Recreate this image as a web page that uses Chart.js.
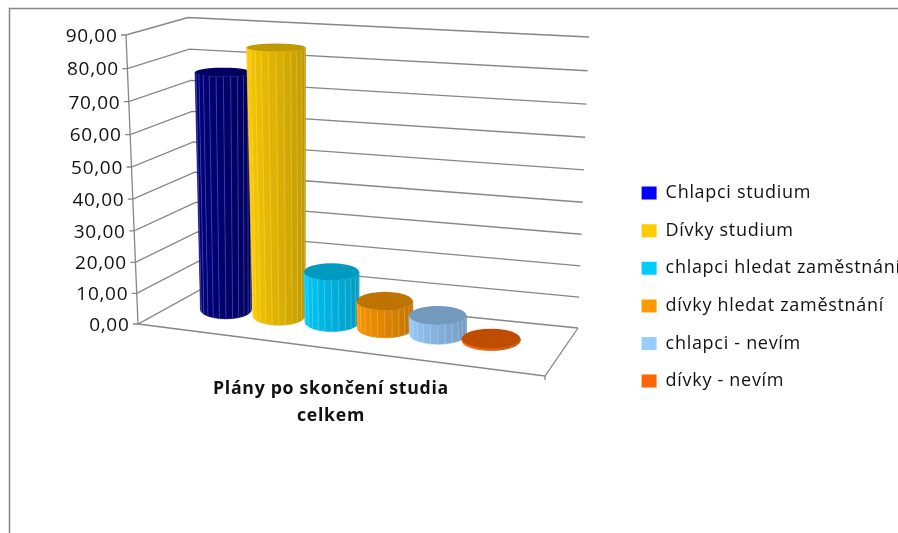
<!DOCTYPE html>
<html>
<head>
<meta charset="utf-8">
<title>Plány po skončení studia</title>
<script src="https://cdn.jsdelivr.net/npm/chart.js@4"></script>
<style>
    html, body { margin: 0; padding: 0; background: #FFFFFF; overflow: hidden; }
    #wrap { width: 898px; height: 533px; }
</style>
</head>
<body>
<div id="wrap"><canvas id="chart-plans"></canvas></div>
<script>
const categories = [['Plány po skončení studia', 'celkem']];
const seriesNames = ['Chlapci studium', 'Dívky studium', 'chlapci hledat zaměstnání', 'dívky hledat zaměstnání', 'chlapci - nevím', 'dívky - nevím'];
const seriesValues = [75.4, 85.2, 15.9, 8.6, 6.0, 0.6];
const legendColors = ['#0000FF', '#FFCC00', '#00CCFF', '#FF9900', '#99CCFF', '#FF6600'];
const bodyColors = [[0, 0, 128], [255, 204, 0], [0, 204, 255], [255, 153, 0], [153, 204, 255], [255, 102, 0]];

const FONT = '"Open Sans", sans-serif';
const SPACING = '0.7px';
const GRID = '#868686';

// corners of the fake 3D box, value 0 and value 90 on each edge
const frontEdge = { x0: 138, y0: 324, x1: 126, y1: 35 };
const backLeft = { x0: 200, y0: 290, x1: 188, y1: 17.5 };
const backRight = { x0: 578, y0: 328, x1: 589, y1: 37 };
const frontRight = { x: 545, y: 376 };

function edgePoint(edge, t) {
    const f = t + 0.05 * (t * t - t);   // upper gridlines sit a bit wider apart
    return [edge.x0 + (edge.x1 - edge.x0) * f, edge.y0 + (edge.y1 - edge.y0) * f];
}

function line(ctx, pts) {
    ctx.beginPath();
    pts.forEach((p, i) => i ? ctx.lineTo(p[0], p[1]) : ctx.moveTo(p[0], p[1]));
    ctx.stroke();
}

function drawBox(chart) {
    const ctx = chart.ctx;
    const scale = chart.scales.y;
    const area = chart.chartArea;
    ctx.save();
    ctx.strokeStyle = GRID;
    ctx.lineWidth = 1.3;
    ctx.fillStyle = '#111111';
    ctx.font = '19px ' + FONT;
    ctx.textAlign = 'right';
    ctx.textBaseline = 'middle';

    scale.ticks.forEach(tick => {
        const t = (area.bottom - scale.getPixelForValue(tick.value)) / (area.bottom - area.top);
        const a = edgePoint(frontEdge, t);
        line(ctx, [[a[0] - 5, a[1]], a, edgePoint(backLeft, t), edgePoint(backRight, t)]);
        ctx.fillText(tick.label, a[0] - 8.5, a[1] + 1.5);
    });

    line(ctx, [[frontEdge.x0, frontEdge.y0], [frontEdge.x1, frontEdge.y1]]);
    line(ctx, [[frontEdge.x0, frontEdge.y0], [frontRight.x, frontRight.y], [backRight.x0, backRight.y0]]);
    line(ctx, [[frontRight.x, frontRight.y], [frontRight.x, frontRight.y + 4]]);
    ctx.restore();
}

function shade(rgb, k) {
    return `rgb(${Math.round(rgb[0] * k)}, ${Math.round(rgb[1] * k)}, ${Math.round(rgb[2] * k)})`;
}

function ellipseHeight(y) {
    return 4 + 0.0205 * (y - 47);
}

function ring(cx, cy, rx, ry, sides) {
    const pts = [];
    for (let i = 0; i <= sides; i++) {
        const a = Math.PI * 2 * i / sides;
        pts.push([cx - rx * Math.cos(a), cy + ry * Math.sin(a)]);
    }
    return pts;
}

// one cylinder, placed from the bar element that the scales computed
function drawCylinder(chart, index) {
    const ctx = chart.ctx;
    const bar = chart.getDatasetMeta(index).data[0];
    const area = chart.chartArea;
    const mid = (area.left + area.right) / 2;
    const rgb = bodyColors[index];
    const sides = 24;

    const h = (bar.base - bar.y) * 0.98;
    const cx = bar.x + 27.5;
    const baseY = bar.base + 1 + (bar.x - mid) * 0.117;
    const topY = baseY - h;
    const rxBase = 25.5 + (cx - 226) * 0.0143;
    const rxTop = rxBase + h * 0.012;

    const low = ring(cx, baseY, rxBase, ellipseHeight(baseY), sides);
    const up = ring(cx - h * 0.011, topY, rxTop, ellipseHeight(topY), sides);

    ctx.save();
    for (let i = 0; i < sides / 2; i++) {
        const k = 1 - 0.27 * i / (sides / 2 - 1);
        ctx.fillStyle = shade(rgb, k);
        ctx.strokeStyle = shade(rgb, k);
        ctx.lineWidth = 0.6;
        ctx.beginPath();
        ctx.moveTo(up[i][0], up[i][1]);
        ctx.lineTo(up[i + 1][0], up[i + 1][1]);
        ctx.lineTo(low[i + 1][0], low[i + 1][1]);
        ctx.lineTo(low[i][0], low[i][1]);
        ctx.closePath();
        ctx.fill();
        ctx.stroke();
    }
    ctx.strokeStyle = 'rgba(255, 255, 255, 0.2)';
    ctx.lineWidth = 1;
    for (let i = 1; i < sides / 2; i++) {
        line(ctx, [up[i], low[i]]);
    }
    ctx.fillStyle = shade(rgb, 0.75);
    ctx.beginPath();
    up.forEach((p, i) => i ? ctx.lineTo(p[0], p[1]) : ctx.moveTo(p[0], p[1]));
    ctx.closePath();
    ctx.fill();
    ctx.restore();
}

const cylinderPlugin = {
    id: 'cylinders',
    beforeLayout(chart) {
        chart.ctx.letterSpacing = SPACING;
    },
    afterLayout(chart) {
        // legend sits further right than the automatic layout puts it,
        // and its last entry runs off the edge of the picture
        const legend = chart.legend;
        const dy = 164.5 - legend.top;
        legend.left = 622;
        legend.right = 910;
        legend.top += dy;
        legend.bottom += dy;
    },
    beforeDraw(chart) {
        const ctx = chart.ctx;
        ctx.letterSpacing = SPACING;
        ctx.save();
        ctx.strokeStyle = GRID;
        ctx.lineWidth = 1.5;
        ctx.strokeRect(9.5, 8.5, 1000, 1000);
        ctx.restore();
    },
    beforeDatasetsDraw(chart) {
        drawBox(chart);
        seriesValues.forEach((v, i) => drawCylinder(chart, i));
        return false;
    }
};

const plansChart = new Chart(document.getElementById('chart-plans'), {
    type: 'bar',
    data: {
        labels: categories,
        datasets: seriesNames.map((name, i) => ({
            label: name,
            data: [seriesValues[i]],
            backgroundColor: legendColors[i]
        }))
    },
    options: {
        responsive: true,
        maintainAspectRatio: false,
        animation: false,
        layout: { padding: { top: 35, right: 182, bottom: 0, left: 0 } },
        barPercentage: 1,
        categoryPercentage: 0.772,
        plugins: {
            tooltip: { enabled: false },
            legend: {
                position: 'right',
                align: 'start',
                labels: {
                    color: '#111111',
                    boxWidth: 15,
                    boxHeight: 13,
                    padding: 19.6,
                    font: { family: FONT, size: 18 }
                }
            }
        },
        scales: {
            x: {
                afterFit: s => { s.height = 209; },
                grid: { display: false },
                border: { display: false },
                ticks: {
                    color: '#111111',
                    padding: 44,
                    maxRotation: 0,
                    font: { family: FONT, size: 17.7, weight: 'bold', lineHeight: 1.5 }
                }
            },
            y: {
                min: 0,
                max: 90,
                afterFit: s => { s.width = 125; },
                grid: { display: false },
                border: { display: false },
                ticks: {
                    display: false,
                    stepSize: 10,
                    callback: v => v.toFixed(2).replace('.', ',')
                }
            }
        }
    },
    plugins: [cylinderPlugin]
});
</script>
</body>
</html>
